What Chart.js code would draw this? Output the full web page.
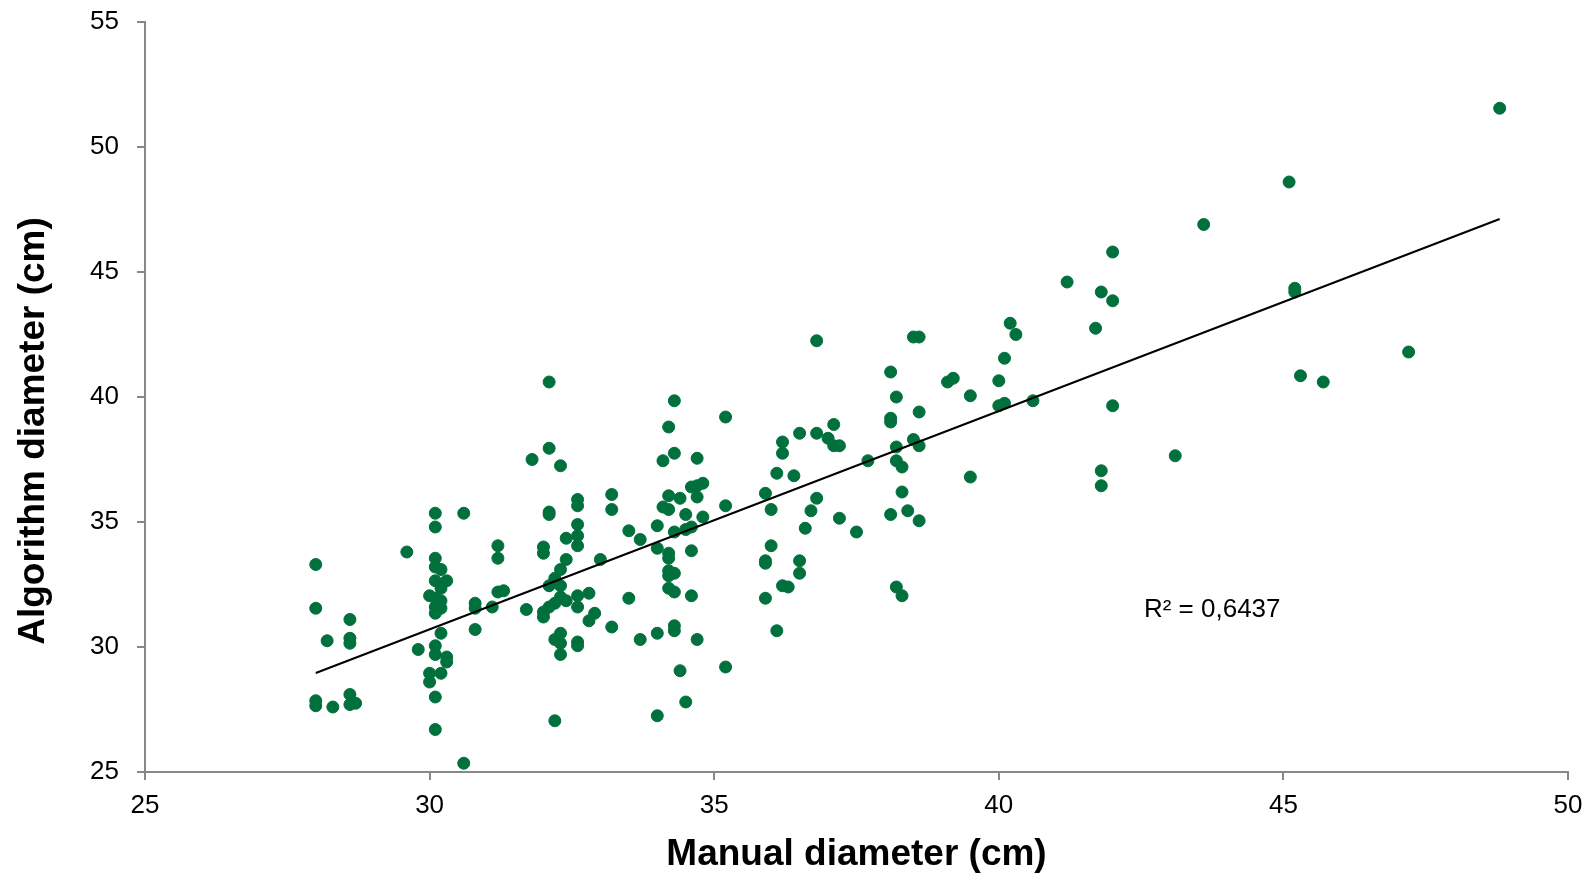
<!DOCTYPE html>
<html>
<head>
<meta charset="utf-8">
<title>Manual vs algorithm diameter</title>
<script src="https://cdn.jsdelivr.net/npm/chart.js@4.4.1/dist/chart.umd.min.js"></script>
<style>
  html, body { margin: 0; padding: 0; background: #fff; }
  #wrap { position: relative; width: 1592px; height: 873px; }
</style>
</head>
<body>
<div id="wrap"><canvas id="scatter"></canvas></div>
<script>
const FONT = '"Liberation Sans", Arial, Helvetica, sans-serif';
const X_TITLE = "Manual diameter (cm)";
const Y_TITLE = "Algorithm diameter (cm)";
const R2_TEXT = "R\u00b2 = 0,6437";

const xTicks = [25, 30, 35, 40, 45, 50];
const yTicks = [25, 30, 35, 40, 45, 50, 55];

// manual diameter (cm), one entry per tree
const manualDiameter = [
  28.0, 28.0, 28.0, 28.0, 28.3, 28.2, 28.6, 28.6, 28.6, 28.6, 28.6, 28.7, 29.6, 29.8,
  30.1, 30.1, 30.6, 30.1, 30.1, 30.2, 30.1, 30.3, 30.2, 30.0, 30.1, 30.2, 30.1, 30.2, 30.1, 30.2,
  30.1, 30.1, 30.3, 30.3, 30.0, 30.0, 30.2, 30.1, 30.1, 30.6,
  30.8, 30.8, 30.8, 31.1, 31.2, 31.2, 31.2, 31.3,
  32.1, 32.1, 31.8, 32.3, 34.3, 34.2, 34.3, 34.1, 34.7, 33.2,
  33.2, 32.6, 32.6, 32.1, 32.1, 32.6, 32.6, 32.6, 32.4, 32.0,
  32.0, 32.4, 33.0, 33.5, 33.7, 34.0, 34.0, 34.1, 34.2, 34.2,
  34.4, 34.5, 34.6, 34.7, 34.8, 34.7, 34.8, 34.6, 34.5, 34.3,
  34.6, 34.2, 34.2, 34.2, 34.3, 34.2, 34.2, 34.3, 34.6, 33.5,
  34.3, 34.3, 34.0, 33.7, 34.7, 34.4, 34.5, 34.0, 32.2, 33.2,
  32.8, 32.9, 32.8, 32.6, 32.6, 32.4, 32.3, 32.2, 32.1, 32.0,
  32.0, 31.7, 32.3, 32.2, 32.1, 32.3, 32.3, 32.2, 32.3, 32.6,
  32.6, 32.3,
  36.8, 38.5, 38.6, 38.1, 38.2, 38.1, 38.1, 38.6, 35.2, 35.2,
  36.2, 36.2, 36.5, 36.8, 37.1, 37.0, 37.1, 37.2, 36.1, 36.4,
  35.9, 36.0, 36.8, 36.7, 36.6, 37.2, 37.5, 37.7, 38.2, 38.5,
  38.6, 38.2, 38.3, 38.3, 38.1, 38.4, 38.6, 38.2, 38.3, 36.0,
  35.9, 35.9, 36.5, 36.5, 36.2, 36.3, 35.9, 36.1, 35.2,
  42.0, 41.2, 41.8, 42.0, 41.7, 40.2, 40.3, 40.1, 39.1, 39.2,
  39.5, 40.0, 40.0, 40.1, 40.6, 42.0, 39.5, 41.8, 41.8,
  48.8, 45.1, 43.6, 45.2, 45.2, 47.2, 45.3, 45.7, 43.1,
];

// algorithm diameter (cm), same order as manualDiameter
const algorithmDiameter = [
  33.3, 31.55, 27.85, 27.65, 27.6, 30.25, 31.1, 30.35, 30.15, 28.1, 27.7, 27.75, 33.8, 29.9,
  35.35, 34.8, 35.35, 33.55, 33.2, 33.1, 32.65, 32.65, 32.35, 32.05, 31.95, 31.85, 31.6, 31.55, 31.35, 30.55,
  30.05, 29.7, 29.6, 29.4, 28.95, 28.6, 28.95, 28.0, 26.7, 25.35,
  31.75, 31.55, 30.7, 31.6, 34.05, 33.55, 32.2, 32.25,
  40.6, 37.95, 37.5, 37.25, 39.85, 38.8, 37.75, 37.45, 37.55, 36.1,
  35.5, 35.9, 35.65, 35.4, 35.3, 34.9, 34.45, 34.05, 34.35, 34.0,
  33.75, 33.5, 33.5, 34.65, 34.3, 34.85, 33.95, 35.6, 36.05, 35.5,
  35.95, 35.3, 36.4, 36.45, 36.55, 36.0, 35.2, 34.8, 34.7, 34.6,
  33.85, 33.75, 33.55, 33.05, 32.95, 32.85, 32.35, 32.2, 32.05, 31.95,
  30.85, 30.65, 30.55, 30.3, 30.3, 29.05, 27.8, 27.25, 27.05, 30.8,
  32.15, 31.35, 31.05, 32.05, 31.6, 31.85, 32.0, 31.75, 31.6, 31.4,
  31.2, 31.5, 33.1, 32.75, 32.45, 32.45, 30.55, 30.3, 30.15, 30.2,
  30.05, 29.7,
  42.25, 42.4, 42.4, 41.0, 40.0, 39.15, 39.0, 39.4, 39.2, 35.65,
  38.2, 37.75, 38.55, 38.55, 38.9, 38.35, 38.05, 38.05, 36.95, 36.85,
  36.15, 35.5, 35.95, 35.45, 34.75, 35.15, 34.6, 37.45, 38.0, 38.3,
  38.05, 37.45, 37.2, 36.2, 35.3, 35.45, 35.05, 32.4, 32.05, 34.05,
  33.45, 33.35, 33.45, 32.95, 32.45, 32.4, 31.95, 30.65, 29.2,
  45.8, 44.6, 44.2, 43.85, 42.75, 42.95, 42.5, 41.55, 40.6, 40.75,
  40.05, 40.65, 39.65, 39.75, 39.85, 39.65, 36.8, 37.05, 36.45,
  51.55, 48.6, 46.9, 44.35, 44.2, 41.8, 40.85, 40.6, 37.65,
];

// linear trendline ends
const trendManual = [28.0, 48.8];
const trendAlgorithm = [28.96, 47.12];
const r2Anchor = { x: 42.55, y: 31.2 };

const POINT_COLOR = "#00703c";
const AXIS_COLOR = "#878787";

function toPoints(xs, ys) {
  return xs.map((x, i) => ({ x, y: ys[i] }));
}

function axis(ticks, fitSize, isX) {
  return {
    type: "linear",
    position: isX ? "bottom" : "left",
    min: ticks[0],
    max: ticks.at(-1),
    afterBuildTicks(scale) {
      scale.ticks = ticks.map((value) => ({ value }));
    },
    afterFit(scale) {
      if (isX) scale.height = fitSize;
      else scale.width = fitSize;
      // the layout padding alone decides where the plot area sits
      scale.paddingTop = 0;
      scale.paddingBottom = 0;
      scale.paddingLeft = 0;
      scale.paddingRight = 0;
    },
    border: { display: true, color: AXIS_COLOR, width: 2 },
    grid: {
      drawOnChartArea: false,
      drawTicks: true,
      tickLength: 8,
      color: AXIS_COLOR,
      lineWidth: 2,
    },
    ticks: {
      color: "#000",
      font: { family: FONT, size: 26 },
      padding: isX ? 10 : 18,
      maxRotation: 0,
      autoSkip: false,
    },
  };
}

const labelsPlugin = {
  id: "labels",
  afterDraw(c) {
    const { ctx, chartArea, scales } = c;
    ctx.save();
    ctx.fillStyle = "#000";
    ctx.font = `bold 37px ${FONT}`;
    ctx.textAlign = "center";
    ctx.textBaseline = "alphabetic";
    ctx.fillText(X_TITLE, (chartArea.left + chartArea.right) / 2, 865);
    ctx.save();
    ctx.translate(44, 431);
    ctx.rotate(-Math.PI / 2);
    ctx.fillText(Y_TITLE, 0, 0);
    ctx.restore();
    ctx.font = `26px ${FONT}`;
    ctx.textAlign = "left";
    ctx.fillText(R2_TEXT, scales.x.getPixelForValue(r2Anchor.x), scales.y.getPixelForValue(r2Anchor.y));
    ctx.restore();
  },
};

new Chart(document.getElementById("scatter"), {
  type: "scatter",
  data: {
    datasets: [
      {
        type: "line",
        label: "Linear trend",
        data: toPoints(trendManual, trendAlgorithm),
        borderColor: "#000",
        borderWidth: 2,
        pointRadius: 0,
        fill: false,
        order: 0,
      },
      {
        label: "Trees",
        data: toPoints(manualDiameter, algorithmDiameter),
        backgroundColor: POINT_COLOR,
        borderColor: POINT_COLOR,
        borderWidth: 1,
        pointRadius: 6,
        order: 1,
      },
    ],
  },
  options: {
    responsive: true,
    maintainAspectRatio: false,
    animation: false,
    layout: { padding: { top: 22, right: 24, left: 0, bottom: 0 } },
    plugins: { legend: { display: false }, tooltip: { enabled: false } },
    scales: {
      x: axis(xTicks, 101, true),
      y: axis(yTicks, 145, false),
    },
  },
  plugins: [labelsPlugin],
});
</script>
</body>
</html>
